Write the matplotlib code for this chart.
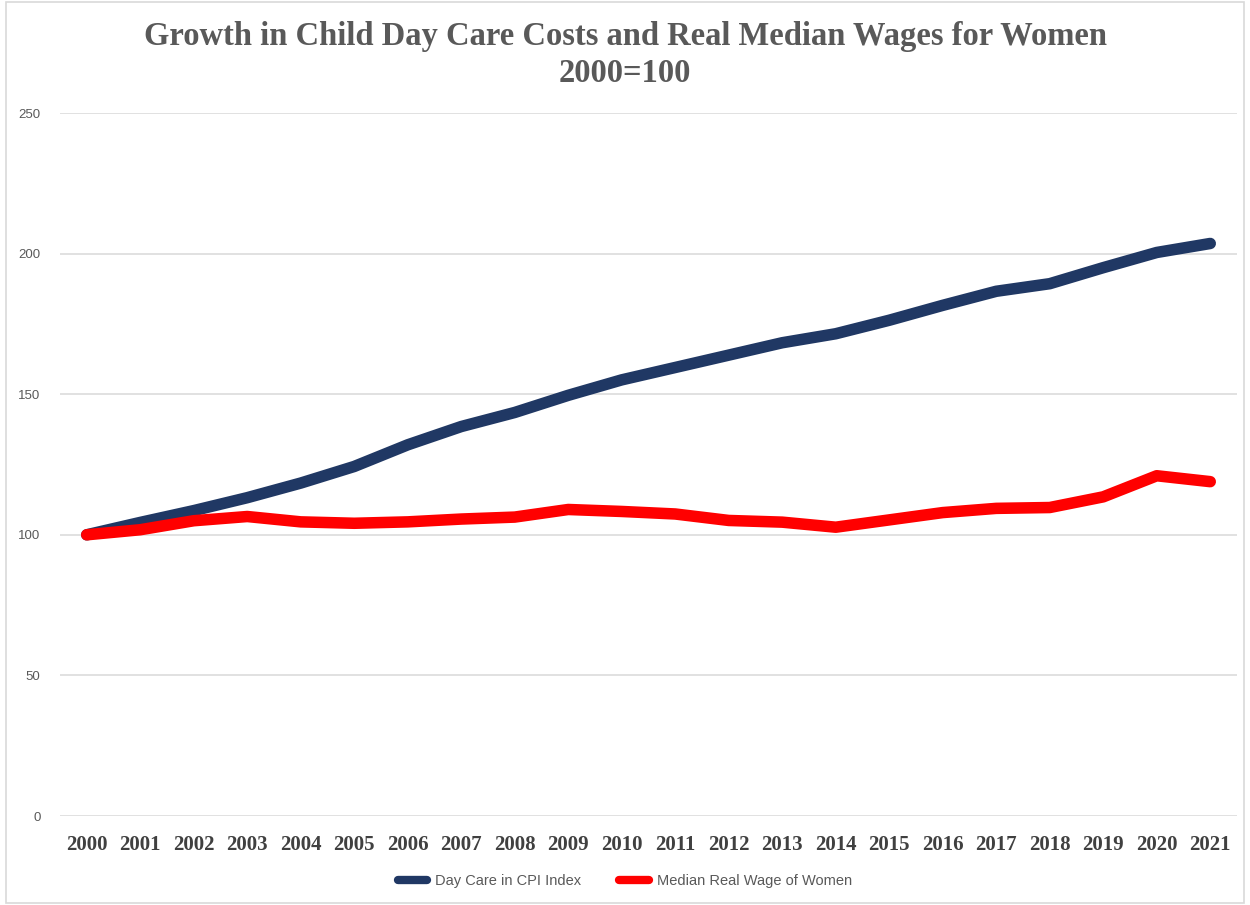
import numpy as np
import matplotlib.pyplot as plt

# index values, 2000 = 100
years = [str(y) for y in range(2000, 2022)]
day_care = [100, 104.4, 108.6, 113.2, 118.4, 124.3, 132.0, 138.5, 143.5, 149.6, 155.1,
            159.5, 163.9, 168.3, 171.5, 176.3, 181.6, 186.6, 189.3, 195.0, 200.4, 203.6]
women_wage = [100, 101.8, 105.0, 106.5, 104.6, 104.1, 104.6, 105.6, 106.3, 109.0, 108.3,
              107.4, 105.1, 104.5, 102.7, 105.3, 107.9, 109.4, 109.7, 113.5, 121.0, 118.9]
yticks = [0, 50, 100, 150, 200, 250]

W, H = 1250, 905
fig = plt.figure(figsize=(W / 100, H / 100), dpi=100)
ax = fig.add_axes([60 / W, 1 - 816 / H, (1237 - 60) / W, (816 - 113) / H])

x = np.arange(len(years))
ax.plot(x, day_care, color='#203864', lw=8.3, solid_capstyle='round',
        solid_joinstyle='round', label='Day Care in CPI Index', zorder=3)
ax.plot(x, women_wage, color='#ff0000', lw=8.3, solid_capstyle='round',
        solid_joinstyle='round', label='Median Real Wage of Women', zorder=4)

ax.set_xlim(-0.5, len(years) - 0.5)
ax.set_ylim(0, 250)
ax.set_yticks(yticks)
ax.set_yticklabels([str(v) for v in yticks], fontsize=9.5, color='#595959',
                   family='Liberation Sans')
ax.set_xticks(x)
ax.set_xticklabels(years, fontsize=15, fontweight='bold', color='#404040',
                   family='Liberation Serif')
ax.tick_params(axis='both', length=0)
ax.tick_params(axis='y', pad=14)
ax.tick_params(axis='x', pad=14)
ax.grid(axis='y', color='#d9d9d9', lw=1.1)
ax.set_axisbelow(True)
for s in ax.spines.values():
    s.set_visible(False)

fig.text(0.5, 1 - 36 / H, 'Growth in Child Day Care Costs and Real Median Wages for Women',
         ha='center', va='center', fontsize=23.5, fontweight='bold', color='#595959',
         family='Liberation Serif')
fig.text(0.5, 1 - 74 / H, '2000=100',
         ha='center', va='center', fontsize=23.5, fontweight='bold', color='#595959',
         family='Liberation Serif')

leg = fig.legend(loc='center', bbox_to_anchor=(0.5, 1 - 881 / H), ncol=2, frameon=False,
                 handlelength=2.0, handletextpad=0.55, columnspacing=2.6,
                 labelcolor='#595959', prop={'family': 'Liberation Sans', 'size': 10.5})
for h in leg.get_lines():
    h.set_linewidth(6)

# outer chart border
fig.patches.append(plt.Rectangle((6 / W, 2 / H), 1 - 12 / W, 1 - 4 / H, transform=fig.transFigure,
                                 fill=False, edgecolor='#d9d9d9', lw=1.2))

fig.savefig('out.png', dpi=100, facecolor='white')
